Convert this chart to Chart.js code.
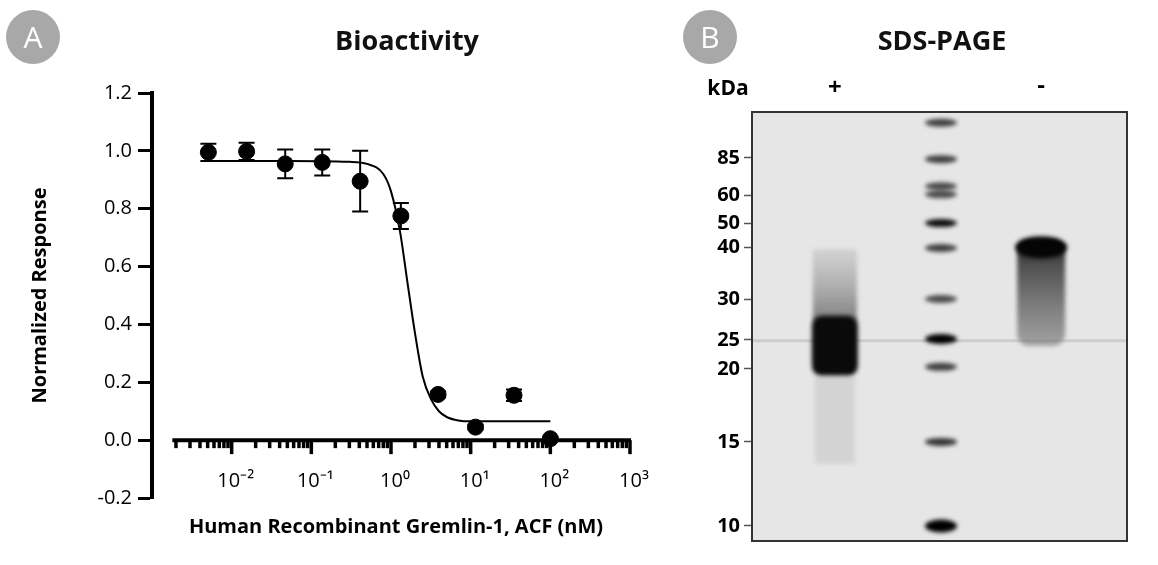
<!DOCTYPE html>
<html><head><meta charset="utf-8">
<script src="https://cdn.jsdelivr.net/npm/chart.js@4.4.1/dist/chart.umd.min.js"></script>
<style>
body{margin:0;background:#fff;width:1158px;height:565px;position:relative;overflow:hidden;font-family:"Open Sans",sans-serif}
#a{position:absolute;left:0;top:0}
#b{position:absolute;left:660px;top:0}
.circ{position:absolute;width:54px;height:54px;border-radius:50%;background:#a8a8a8;color:#fff;font:30px "Open Sans";text-align:center;line-height:54px}
.ttl{position:absolute;font:bold 27px "Open Sans";color:#111;transform:translateX(-50%)}
</style></head><body>
<canvas id="a" width="660" height="565"></canvas>
<canvas id="b" width="498" height="565"></canvas>
<div class="circ" style="left:6px;top:10px">A</div>
<div class="circ" style="left:683px;top:10px">B</div>
<div class="ttl" style="left:407px;top:21px">Bioactivity</div>
<div class="ttl" style="left:942px;top:21px">SDS-PAGE</div>
<script>
// Panel A data
const concNM = [0.0051,0.0154,0.047,0.137,0.41,1.33,3.9,11.5,35,100];
const response = [0.995,0.998,0.955,0.96,0.895,0.775,0.158,0.045,0.155,0.005];
const errBar = [0.03,0.03,0.05,0.045,0.105,0.045,0.01,0.008,0.02,0.005];
const fitX = [0.005,0.05,0.3,0.5,0.8,1.0,1.3,1.6,2.0,2.5,3.2,4,5,7,10,30,100];
const fitY = [0.965,0.965,0.962,0.955,0.92,0.86,0.72,0.55,0.37,0.22,0.14,0.10,0.08,0.068,0.065,0.065,0.065];
const yTicks = [-0.2,0,0.2,0.4,0.6,0.8,1.0,1.2];
const xDecades = [-2,-1,0,1,2,3];
const supers = {'-':'⁻','0':'⁰','1':'¹','2':'²','3':'³'};
// Panel B data
const markerKDa = [85,60,50,40,30,25,20,15,10];
const markerPos = [0.107,0.194,0.259,0.315,0.437,0.531,0.599,0.769,0.965];
const ladderPos = [0.025,0.11,0.173,0.192,0.259,0.317,0.436,0.529,0.594,0.769,0.965];
const ladderInt = [0.75,0.75,0.7,0.7,0.95,0.75,0.7,1.0,0.75,0.8,1.0];
const laneX = {plus:0.221, ladder:0.504, minus:0.771};

const F = '"Open Sans", sans-serif';
const axA = {
  id:'axA',
  afterDraw(c){
    const ctx=c.ctx, x=c.scales.x, y=c.scales.y, y0=y.getPixelForValue(0);
    ctx.save();
    ctx.strokeStyle='#000'; ctx.lineWidth=2;
    concNM.forEach((v,i)=>{
      const px=x.getPixelForValue(v), t=y.getPixelForValue(response[i]+errBar[i]), b=y.getPixelForValue(response[i]-errBar[i]);
      ctx.beginPath(); ctx.moveTo(px,t); ctx.lineTo(px,b);
      ctx.moveTo(px-8,t); ctx.lineTo(px+8,t); ctx.moveTo(px-8,b); ctx.lineTo(px+8,b); ctx.stroke();
    });
    ctx.lineWidth=4;
    ctx.beginPath(); ctx.moveTo(x.getPixelForValue(0.0018),y0); ctx.lineTo(x.getPixelForValue(1000)+1,y0); ctx.stroke();
    ctx.lineWidth=3.5;
    for(let d=-3; d<3; d++){
      for(let m=2;m<=9;m++){
        const px=x.getPixelForValue(m*Math.pow(10,d));
        ctx.beginPath(); ctx.moveTo(px,y0); ctx.lineTo(px,y0+8); ctx.stroke();
      }
    }
    ctx.fillStyle='#000'; ctx.textAlign='center'; ctx.textBaseline='middle'; ctx.font='20px '+F;
    xDecades.forEach(d=>{
      const px=x.getPixelForValue(Math.pow(10,d));
      ctx.beginPath(); ctx.moveTo(px,y0); ctx.lineTo(px,y0+14); ctx.stroke();
      const lbl='10'+String(d).split('').map(ch=>supers[ch]).join('');
      ctx.fillText(lbl,px+4,481);
    });
    ctx.font='bold 20px '+F;
    ctx.fillText('Human Recombinant Gremlin-1, ACF (nM)',396,527);
    ctx.restore();
  }
};
new Chart(document.getElementById('a'),{
  data:{datasets:[
    {type:'line',data:fitX.map((v,i)=>({x:v,y:fitY[i]})),borderColor:'#000',borderWidth:2,pointRadius:0,cubicInterpolationMode:'monotone',order:2},
    {type:'scatter',data:concNM.map((v,i)=>({x:v,y:response[i]})),pointRadius:8,backgroundColor:'#000',borderColor:'#000',order:1}
  ]},
  options:{responsive:false,animation:false,
    layout:{padding:{left:24,right:30,top:93,bottom:67}},
    plugins:{legend:{display:false},tooltip:{enabled:false}},
    scales:{
      x:{type:'logarithmic',min:0.001,max:1000,display:false},
      y:{min:-0.2,max:1.2,afterFit(s){s.width=128;},
        afterBuildTicks(s){s.ticks=yTicks.map(v=>({value:v}));},
        ticks:{color:'#000',font:{size:20,family:F},padding:6,callback:v=>v.toFixed(1)},
        grid:{drawOnChartArea:false,tickLength:14,tickWidth:3,color:'#000'},
        border:{display:true,width:4,color:'#000'},
        title:{display:true,text:'Normalized Response',color:'#000',font:{size:20,weight:'bold',family:F},padding:{bottom:8}}
      }
    }
  },
  plugins:[axA]
});

const gel = {
  id:'gel',
  beforeDatasetsDraw(c){
    const ctx=c.ctx, a=c.chartArea, x=c.scales.x, y=c.scales.y;
    const W=a.right-a.left;
    ctx.save();
    ctx.fillStyle='#e6e6e6'; ctx.fillRect(a.left,a.top,W,a.bottom-a.top);
    ctx.fillStyle='rgba(180,180,180,0.5)'; ctx.fillRect(a.left,y.getPixelForValue(0.532)-1,W,3);
    ctx.filter='blur(2px)';
    const lx=x.getPixelForValue(laneX.ladder);
    ladderPos.forEach((p,i)=>{
      const py=y.getPixelForValue(p), h=(i===ladderPos.length-1)?11:(i===7?8:6);
      const g=Math.round(40*(1-ladderInt[i]));
      ctx.fillStyle=`rgba(${g},${g},${g},${ladderInt[i]})`;
      ctx.beginPath(); ctx.ellipse(lx,py,16,h/2+1,0,0,Math.PI*2); ctx.fill();
    });
    const px=x.getPixelForValue(laneX.plus);
    let gr=ctx.createLinearGradient(0,y.getPixelForValue(0.32),0,y.getPixelForValue(0.48));
    gr.addColorStop(0,'rgba(150,150,150,0.25)'); gr.addColorStop(1,'rgba(90,90,90,0.7)');
    ctx.fillStyle=gr; ctx.fillRect(px-22,y.getPixelForValue(0.32),44,y.getPixelForValue(0.49)-y.getPixelForValue(0.32));
    ctx.fillStyle='#0a0a0a';
    ctx.beginPath(); ctx.roundRect(px-23,y.getPixelForValue(0.475),46,y.getPixelForValue(0.615)-y.getPixelForValue(0.475),10); ctx.fill();
    ctx.fillStyle='rgba(170,170,170,0.3)'; ctx.fillRect(px-20,y.getPixelForValue(0.615),40,y.getPixelForValue(0.82)-y.getPixelForValue(0.615));
    const mx=x.getPixelForValue(laneX.minus);
    gr=ctx.createLinearGradient(0,y.getPixelForValue(0.29),0,y.getPixelForValue(0.54));
    gr.addColorStop(0,'rgba(10,10,10,1)'); gr.addColorStop(0.25,'rgba(60,60,60,0.9)'); gr.addColorStop(1,'rgba(130,130,130,0.7)');
    ctx.fillStyle=gr; ctx.beginPath(); ctx.roundRect(mx-24,y.getPixelForValue(0.30),48,y.getPixelForValue(0.545)-y.getPixelForValue(0.30),12); ctx.fill();
    ctx.fillStyle='#050505'; ctx.beginPath(); ctx.ellipse(mx,y.getPixelForValue(0.315),26,11,0,0,Math.PI*2); ctx.fill();
    ctx.filter='none';
    ctx.strokeStyle='#333'; ctx.lineWidth=2; ctx.strokeRect(a.left,a.top,W,a.bottom-a.top);
    ctx.fillStyle='#000'; ctx.font='bold 21px '+F; ctx.textAlign='center'; ctx.textBaseline='middle';
    ctx.fillText('kDa',68,89); ctx.font='bold 24px '+F; ctx.fillText('+',px,88); ctx.fillText('-',mx,86);
    ctx.restore();
  }
};
new Chart(document.getElementById('b'),{
  type:'scatter',
  data:{datasets:[{data:[]}]},
  options:{responsive:false,animation:false,
    layout:{padding:{left:0,right:31,top:112,bottom:24}},
    plugins:{legend:{display:false},tooltip:{enabled:false}},
    scales:{
      x:{min:0,max:1,display:false},
      y:{min:0,max:1,reverse:true,afterFit(s){s.width=92;},
        afterBuildTicks(s){s.ticks=markerPos.map(v=>({value:v}));},
        ticks:{color:'#000',font:{size:20,weight:'bold',family:F},padding:4,
          callback:(v,i)=>String(markerKDa[i])},
        grid:{drawOnChartArea:false,tickLength:8,tickWidth:1.5,color:'#555'},
        border:{display:false}
      }
    }
  },
  plugins:[gel]
});
</script></body></html>
